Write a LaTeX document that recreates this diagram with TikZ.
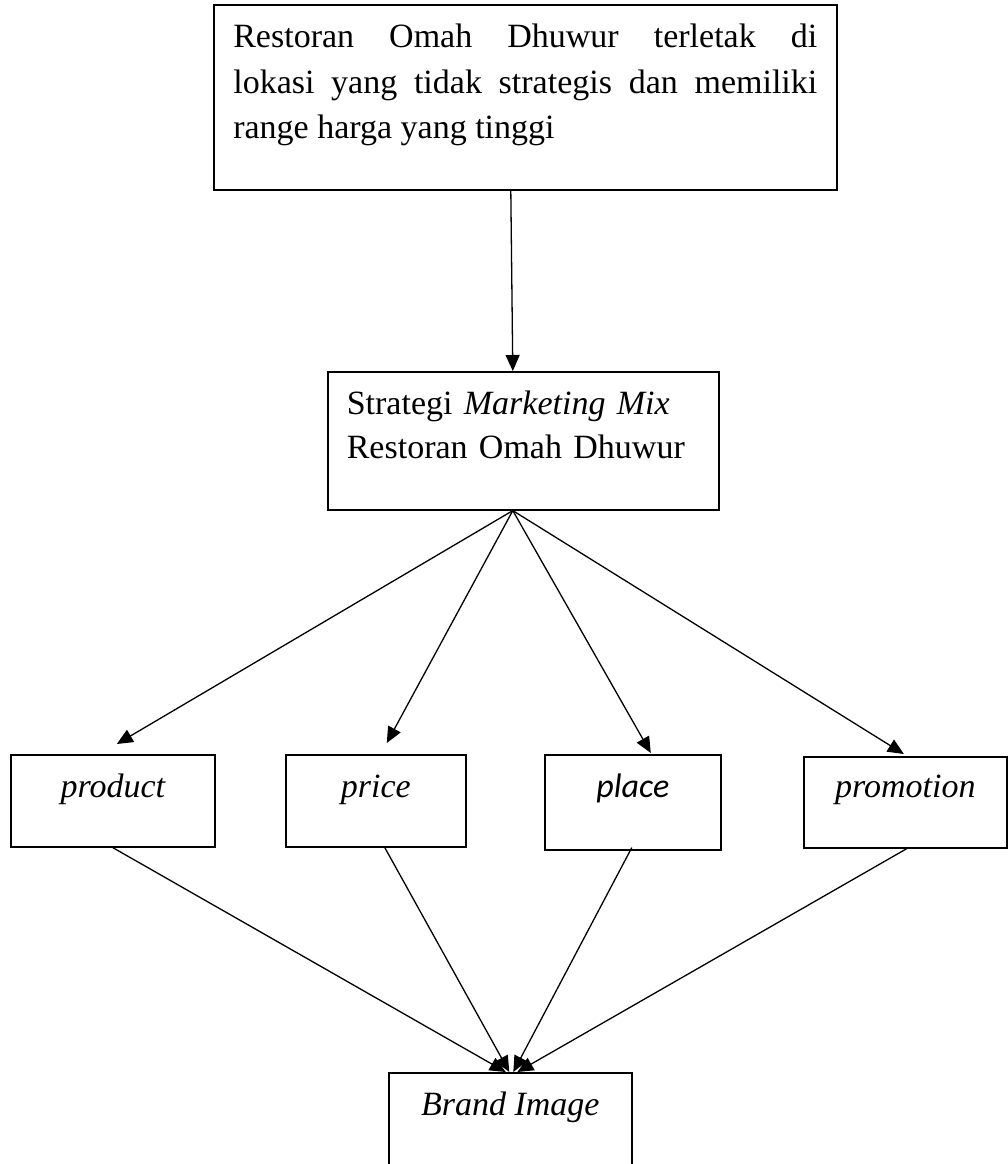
\documentclass[tikz,border=0pt]{standalone}
\usepackage{fontspec}
\setmainfont{Liberation Serif}
\newfontfamily\calibrifont{Carlito}
\usetikzlibrary{arrows.meta}
\begin{document}
\begin{tikzpicture}[x=1pt,y=-1pt,
  box/.style={draw, line width=1.6pt, inner sep=0pt, anchor=north west,
    font=\fontsize{34}{44}\selectfont},
  conn/.style={line width=1.3pt, -{Triangle[length=16pt,width=14pt]}},
  plainline/.style={line width=1.3pt}]
\useasboundingbox (0,0) rectangle (1008,1164);
\clip (0,0) rectangle (1008,1164);
\node[box, minimum width=623pt, text width=584pt, align=justify,
  font=\fontsize{34}{45.5}\selectfont,
  text height=43pt, text depth=142pt] (top) at (213,4)
  {\hyphenpenalty=10000 Restoran Omah Dhuwur terletak di\linebreak
   lokasi yang tidak strategis dan memiliki\linebreak
   range harga yang tinggi};
\node[box, minimum width=391pt, text width=353pt, align=left,
  text height=43pt, text depth=95pt] (mid) at (327,371)
  {Strategi \textit{Marketing Mix}\\Restoran Omah Dhuwur};
\node[box, minimum width=204pt, text height=43pt, text depth=49pt] (prod) at (10,754) {\itshape product};
\node[box, minimum width=180pt, text height=43pt, text depth=49pt] (price) at (285,754) {\itshape price};
\node[box, minimum width=176pt, text height=43pt, text depth=52pt] (place) at (544,754) {\calibrifont\itshape place};
\node[box, minimum width=203pt, text height=41pt, text depth=50pt] (promo) at (803,756) {\itshape promotion};
\node[box, minimum width=243pt, text height=43pt, text depth=120pt] (brand) at (388,1072) {\itshape Brand Image};

\draw[conn] ([xshift=-14.5pt]top.south) -- ([xshift=-10.5pt]mid.north);
\draw[conn] ([xshift=-10.5pt]mid.south) -- ([xshift=4pt,yshift=10pt]prod.north);
\draw[conn] ([xshift=-10.5pt]mid.south) -- ([xshift=11pt,yshift=11pt]price.north);
\draw[conn] ([xshift=-10.5pt]mid.south) -- ([xshift=18pt,yshift=1pt]place.north);
\draw[conn] ([xshift=-10.5pt]mid.south) -- ([xshift=-1.5pt,yshift=2pt]promo.north);

\draw[conn] (prod.south) -- ([xshift=-4.5pt]brand.north);
\draw[conn] ([xshift=9pt]price.south) -- ([xshift=-1pt]brand.north);
\draw[conn] ([xshift=-1pt,yshift=3pt]place.south) -- ([xshift=3pt]brand.north);
\draw[conn] ([xshift=1.5pt]promo.south) -- ([xshift=7pt]brand.north);
\end{tikzpicture}
\end{document}
